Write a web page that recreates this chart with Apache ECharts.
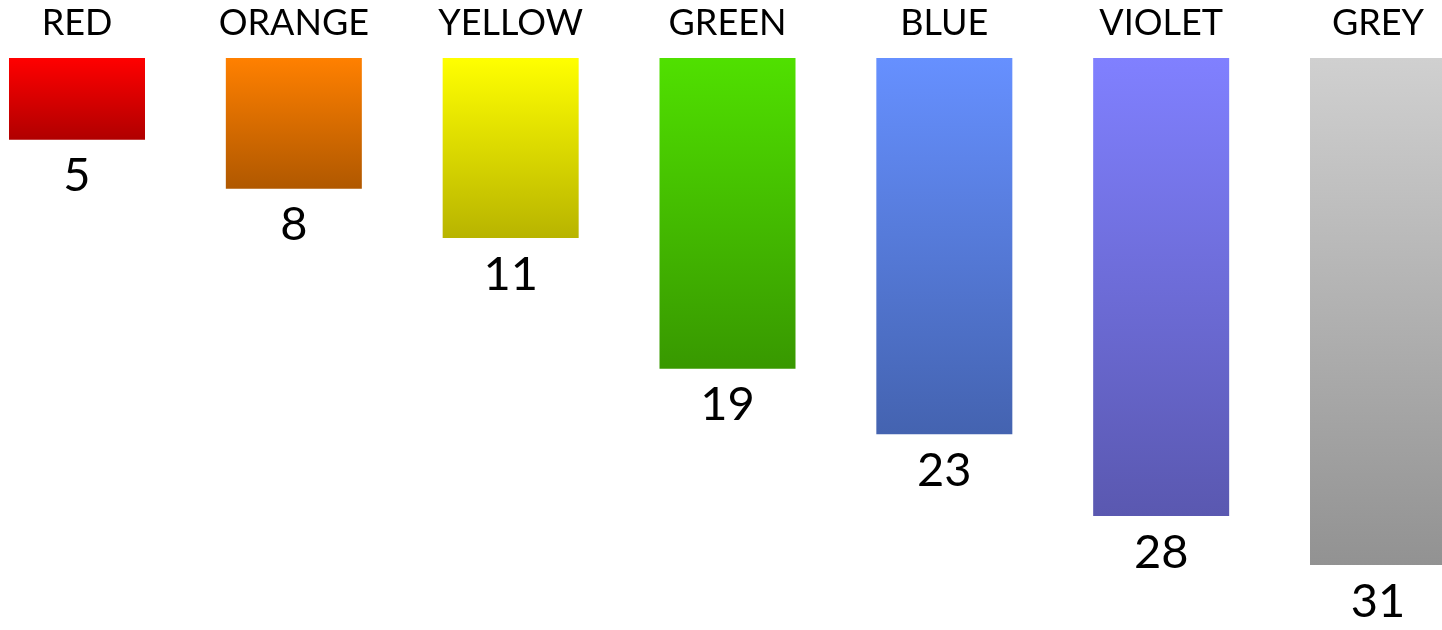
<!DOCTYPE html>
<html>
<head>
<meta charset="utf-8">
<style>
  html, body { margin: 0; padding: 0; background: #ffffff; }
  #chart { width: 1442px; height: 630px; }
</style>
<script src="https://cdn.jsdelivr.net/npm/echarts@6/dist/echarts.min.js"></script>
</head>
<body>
<div id="chart"></div>
<script>
// Colour categories and their counts
const categories = ['RED', 'ORANGE', 'YELLOW', 'GREEN', 'BLUE', 'VIOLET', 'GREY'];
const values = [5, 8, 11, 19, 23, 28, 31];
// Gradient end colours for each bar (top, bottom)
const topColors = ['#ff0000', '#ff8000', '#ffff00', '#50e000', '#6690ff', '#8080ff', '#d0d0d0'];
const bottomColors = ['#b00000', '#b05800', '#b8b400', '#389800', '#4463b0', '#5a58b0', '#929292'];

const FONT = 'Lato, "Open Sans", sans-serif';

const chart = echarts.init(document.getElementById('chart'), null, { renderer: 'canvas' });

const barData = values.map((v, i) => ({
  value: v,
  itemStyle: {
    color: new echarts.graphic.LinearGradient(0, 0, 0, 1, [
      { offset: 0, color: topColors[i] },
      { offset: 1, color: bottomColors[i] }
    ])
  }
}));

chart.setOption({
  animation: false,
  backgroundColor: '#ffffff',
  grid: { left: 77, right: 64, top: 58, bottom: 65 },
  xAxis: {
    type: 'category',
    position: 'top',
    data: categories,
    boundaryGap: false,
    axisLine: { show: false },
    axisTick: { show: false },
    splitLine: { show: false },
    axisLabel: {
      color: '#000000',
      fontFamily: FONT,
      fontSize: 36,
      margin: 17,
      interval: 0
    }
  },
  yAxis: {
    type: 'value',
    inverse: true,
    min: 0,
    max: 31,
    show: false,
    splitLine: { show: false }
  },
  series: [{
    type: 'bar',
    data: barData,
    barWidth: 136,
    label: {
      show: true,
      position: 'bottom',
      distance: 13,
      color: '#000000',
      fontFamily: FONT,
      fontSize: 47
    }
  }]
});
</script>
</body>
</html>
